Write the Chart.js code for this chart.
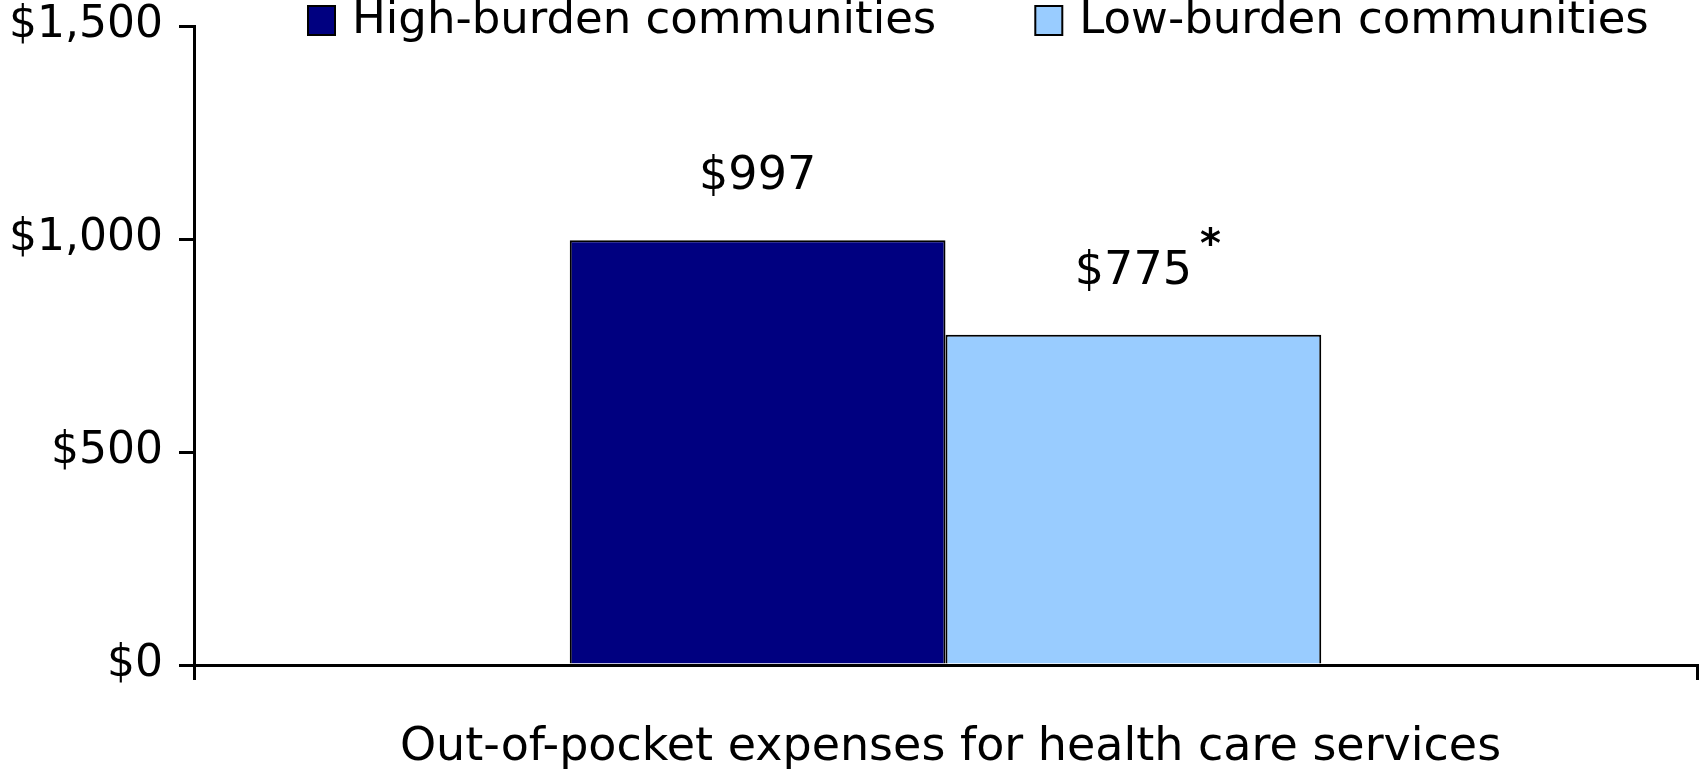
<!DOCTYPE html>
<html>
<head>
<meta charset="utf-8">
<script src="https://cdn.jsdelivr.net/npm/chart.js@4"></script>
<style>
html,body{margin:0;padding:0;background:#fff;}
#c{display:block;}
</style>
</head>
<body>
<canvas id="c" width="1700" height="769"></canvas>
<script>
const categories = ['Out-of-pocket expenses for health care services'];
const seriesNames = ['High-burden communities', 'Low-burden communities'];
const highBurden = [997];
const lowBurden = [775];
const significance = ['', '*'];
const yTicks = [0, 500, 1000, 1500];
const seriesColors = ['#000080', '#99CCFF'];

const FONT = '"DejaVu Sans", Verdana, sans-serif';

const valueLabels = {
  id: 'valueLabels',
  afterDatasetsDraw(chart) {
    const ctx = chart.ctx;
    ctx.save();
    ctx.fillStyle = '#000';
    ctx.textAlign = 'center';
    ctx.textBaseline = 'middle';
    chart.data.datasets.forEach((ds, di) => {
      const meta = chart.getDatasetMeta(di);
      meta.data.forEach((bar, i) => {
        const v = ds.data[i];
        const txt = '$' + v.toLocaleString('en-US');
        ctx.font = '46px ' + FONT;
        const y = bar.y - 63;
        ctx.fillText(txt, bar.x, y);
        const mark = significance[di];
        if (mark) {
          const w = ctx.measureText(txt).width;
          ctx.font = 'bold 40px ' + FONT;
          ctx.textAlign = 'left';
          ctx.fillText(mark, bar.x + w / 2 + 8, y - 25);
          ctx.textAlign = 'center';
        }
      });
    });
    ctx.restore();
  }
};

const customLegend = {
  id: 'customLegend',
  afterDraw(chart) {
    const ctx = chart.ctx;
    ctx.save();
    ctx.font = '45px ' + FONT;
    ctx.textBaseline = 'middle';
    ctx.textAlign = 'left';
    let x = 308;
    const yc = 20;
    chart.data.datasets.forEach((ds, i) => {
      ctx.fillStyle = ds.backgroundColor;
      ctx.fillRect(x, yc - 14, 27, 29);
      ctx.lineWidth = 2;
      ctx.strokeStyle = '#000';
      ctx.strokeRect(x, yc - 14, 27, 29);
      ctx.fillStyle = '#000';
      ctx.fillText(ds.label, x + 44, yc + 1);
      x += 44 + ctx.measureText(ds.label).width + 99;
    });
    ctx.restore();
  }
};

new Chart(document.getElementById('c'), {
  type: 'bar',
  data: {
    labels: categories,
    datasets: [
      { label: seriesNames[0], data: highBurden, backgroundColor: seriesColors[0], borderColor: '#000', borderWidth: 2 },
      { label: seriesNames[1], data: lowBurden, backgroundColor: seriesColors[1], borderColor: '#000', borderWidth: 2 }
    ]
  },
  options: {
    responsive: false,
    animation: false,
    devicePixelRatio: 1,
    layout: { padding: { top: 26, right: 3, left: 0, bottom: 0 } },
    datasets: { bar: { categoryPercentage: 0.5, barPercentage: 1.0 } },
    plugins: {
      legend: { display: false },
      tooltip: { enabled: false }
    },
    scales: {
      x: {
        grid: { offset: true, drawOnChartArea: false, tickLength: 15, color: '#000', lineWidth: 3 },
        border: { color: '#000', width: 3 },
        ticks: { color: '#000', font: { family: FONT, size: 46 }, padding: 40, maxRotation: 0, labelOffset: 5 },
        afterFit(scale) { scale.height = 104; scale.paddingLeft = 0; scale.paddingRight = 0; }
      },
      y: {
        min: 0, max: 1500,
        afterBuildTicks(scale) { scale.ticks = yTicks.map(v => ({ value: v })); },
        grid: { drawOnChartArea: false, tickLength: 15, color: '#000', lineWidth: 3 },
        border: { color: '#000', width: 3 },
        ticks: {
          color: '#000', font: { family: FONT, size: 44 }, padding: 16,
          callback: v => '$' + Number(v).toLocaleString('en-US')
        },
        afterFit(scale) { scale.width = 194; scale.paddingTop = 0; scale.paddingBottom = 0; }
      }
    }
  },
  plugins: [valueLabels, customLegend]
});
</script>
</body>
</html>
